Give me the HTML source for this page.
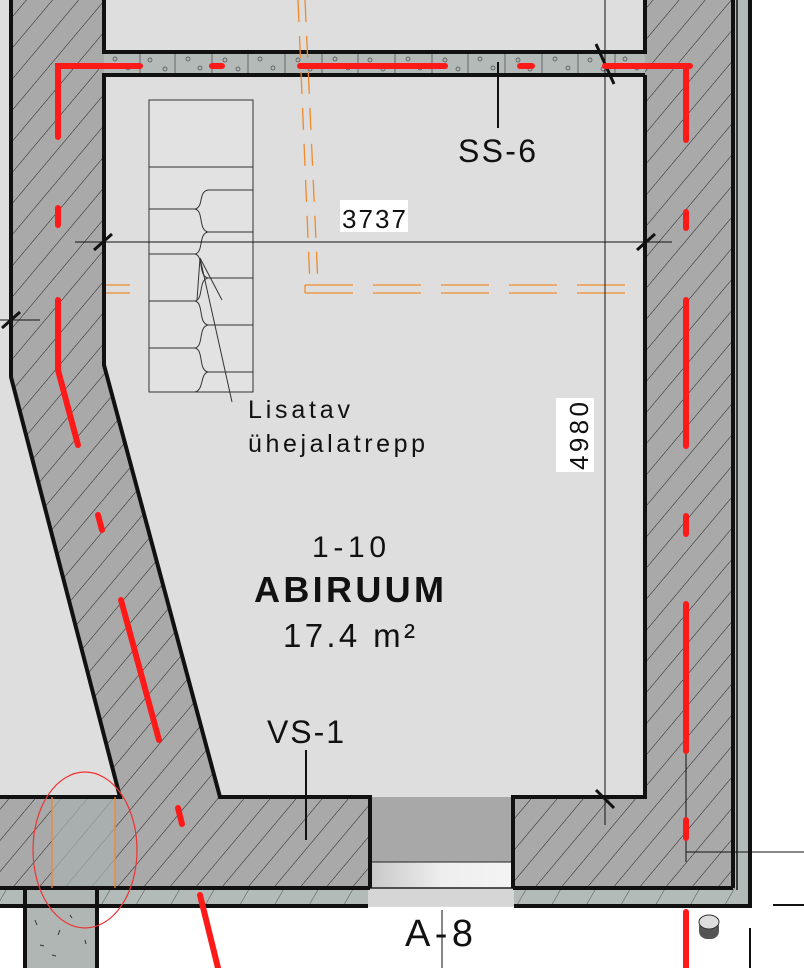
<!DOCTYPE html>
<html><head><meta charset="utf-8"><style>
html,body{margin:0;padding:0;background:#fff}
svg{display:block}
text{font-family:"Liberation Sans",sans-serif;fill:#111}
</style></head><body>
<svg width="804" height="968" viewBox="0 0 804 968" xmlns="http://www.w3.org/2000/svg">
<defs>
<pattern id="h" patternUnits="userSpaceOnUse" width="20" height="20" patternTransform="rotate(40)">
<rect width="20" height="20" fill="#a9a9a9"/>
<line x1="0" y1="0" x2="0" y2="20" stroke="#222" stroke-width="1"/>
</pattern>
<pattern id="h2" patternUnits="userSpaceOnUse" width="30" height="30" patternTransform="rotate(30)">
<rect width="30" height="30" fill="#b3bbb8"/>
<line x1="0" y1="0" x2="0" y2="30" stroke="#333" stroke-width="0.8"/>
</pattern>
<linearGradient id="g" x1="0" x2="1"><stop offset="0" stop-color="#c8c8c8"/><stop offset="0.5" stop-color="#eeeeee"/><stop offset="1" stop-color="#f4f4f4"/></linearGradient>
</defs>
<rect x="0" y="0" width="751" height="907" fill="#dedede"/>
<rect x="751" y="0" width="53" height="968" fill="#fff"/>
<rect x="0" y="907" width="751" height="61" fill="#fff"/>
<polygon points="11,0 104,0 104,365 220,797 0,797 0,888 120,888 120,797 11,377" fill="url(#h)"/>
<polygon points="0,797 120,797 11,377 11,797" fill="#dedede"/>
<rect x="0" y="797" width="370" height="91" fill="url(#h)"/>
<rect x="52" y="797" width="63" height="91" fill="#a9b0b0" opacity="0.7"/>
<rect x="513" y="797" width="220" height="91" fill="url(#h)"/>
<rect x="645" y="0" width="88" height="888" fill="url(#h)"/>
<rect x="735" y="0" width="15" height="906" fill="#b3bbb8"/>
<rect x="0" y="888" width="368" height="18" fill="url(#h2)"/>
<rect x="514" y="888" width="236" height="18" fill="url(#h2)"/>
<rect x="370" y="797" width="144" height="65" fill="#a8a8a8"/>
<rect x="370" y="862" width="144" height="26" fill="url(#g)"/>
<rect x="368" y="888" width="146" height="18" fill="#d6d6d6"/>
<line x1="370" y1="862" x2="514" y2="862" stroke="#222" stroke-width="1"/>
<line x1="368" y1="888" x2="514" y2="888" stroke="#222" stroke-width="1.5"/>
<rect x="25" y="888" width="72" height="80" fill="#b0b6b4"/>
<g stroke="#333" stroke-width="1"><line x1="35" y1="920" x2="37" y2="925"/><line x1="60" y1="930" x2="58" y2="935"/><line x1="40" y1="945" x2="44" y2="946"/><line x1="70" y1="915" x2="72" y2="918"/><line x1="52" y1="955" x2="56" y2="956"/><line x1="85" y1="940" x2="86" y2="944"/></g>
<line x1="25" y1="888" x2="25" y2="968" stroke="#111" stroke-width="4"/>
<line x1="97" y1="888" x2="97" y2="968" stroke="#111" stroke-width="4"/>
<rect x="104" y="0" width="541" height="52" fill="#dedede"/>
<rect x="104" y="52" width="541" height="23" fill="#b4bab8"/>
<g stroke="#444" stroke-width="0.7" fill="none">
<line x1="140" y1="52" x2="140" y2="75"/><line x1="175" y1="52" x2="175" y2="75"/><line x1="212" y1="52" x2="212" y2="75"/><line x1="248" y1="52" x2="248" y2="75"/><line x1="285" y1="52" x2="285" y2="75"/><line x1="322" y1="52" x2="322" y2="75"/><line x1="358" y1="52" x2="358" y2="75"/><line x1="395" y1="52" x2="395" y2="75"/><line x1="432" y1="52" x2="432" y2="75"/><line x1="468" y1="52" x2="468" y2="75"/><line x1="505" y1="52" x2="505" y2="75"/><line x1="542" y1="52" x2="542" y2="75"/><line x1="578" y1="52" x2="578" y2="75"/><line x1="615" y1="52" x2="615" y2="75"/>
<circle cx="115" cy="59" r="2"/><circle cx="128" cy="68" r="2"/><circle cx="150" cy="60" r="2"/><circle cx="165" cy="69" r="2"/><circle cx="188" cy="59" r="2"/><circle cx="200" cy="68" r="2"/><circle cx="225" cy="60" r="2"/><circle cx="238" cy="69" r="2"/><circle cx="260" cy="59" r="2"/><circle cx="273" cy="68" r="2"/><circle cx="298" cy="60" r="2"/><circle cx="310" cy="69" r="2"/><circle cx="335" cy="59" r="2"/><circle cx="348" cy="68" r="2"/><circle cx="370" cy="60" r="2"/><circle cx="383" cy="69" r="2"/><circle cx="408" cy="59" r="2"/><circle cx="420" cy="68" r="2"/><circle cx="445" cy="60" r="2"/><circle cx="458" cy="69" r="2"/><circle cx="480" cy="59" r="2"/><circle cx="493" cy="68" r="2"/><circle cx="518" cy="60" r="2"/><circle cx="530" cy="69" r="2"/><circle cx="555" cy="59" r="2"/><circle cx="568" cy="68" r="2"/><circle cx="590" cy="60" r="2"/><circle cx="603" cy="69" r="2"/><circle cx="625" cy="59" r="2"/><circle cx="637" cy="68" r="2"/>
</g>
<polygon points="104,75 645,75 645,797 220,797 104,365" fill="#dedede"/>
<g stroke="#111" stroke-width="4" fill="none">
<polyline points="104,0 104,52 645,52 645,0"/>
<polyline points="645,75 104,75 104,365 220,797 370,797 370,888"/>
<polyline points="11,0 11,377 120,797 0,797"/>
<polyline points="645,75 645,797 513,797 513,888"/>
<line x1="0" y1="888" x2="370" y2="888"/>
<line x1="513" y1="888" x2="733" y2="888"/>
<line x1="0" y1="906" x2="368" y2="906"/>
<polyline points="514,906 750,906 750,0"/>
<line x1="733" y1="0" x2="733" y2="888"/>
</g>
<line x1="737" y1="0" x2="737" y2="890" stroke="#111" stroke-width="1.5"/>
<g stroke="#f08a2a" stroke-width="1.3" fill="none">
<line x1="298" y1="0" x2="310" y2="285" stroke-dasharray="22,14"/>
<line x1="305" y1="0" x2="318" y2="285" stroke-dasharray="22,14"/>
<line x1="305" y1="285" x2="640" y2="285" stroke-dasharray="48,20"/>
<line x1="305" y1="293" x2="640" y2="293" stroke-dasharray="48,20"/>
<line x1="305" y1="285" x2="305" y2="293"/>
<line x1="106" y1="285" x2="130" y2="285"/><line x1="106" y1="293" x2="130" y2="293"/>
<line x1="52" y1="797" x2="52" y2="888"/><line x1="115" y1="797" x2="115" y2="888"/>
</g>
<g stroke="#333" stroke-width="1" fill="none">
<rect x="149" y="100" width="104" height="292" fill="#e2e2e2"/>
<line x1="149" y1="167" x2="253" y2="167"/>
<line x1="149" y1="209" x2="195" y2="209"/><line x1="149" y1="254" x2="195" y2="254"/><line x1="149" y1="301" x2="195" y2="301"/><line x1="149" y1="348" x2="195" y2="348"/>
<line x1="208" y1="190" x2="253" y2="190"/><line x1="208" y1="232" x2="253" y2="232"/><line x1="208" y1="278" x2="253" y2="278"/><line x1="208" y1="325" x2="253" y2="325"/><line x1="208" y1="372" x2="253" y2="372"/>
<path d="M208,190 C198,192 204,207 195,209 C204,211 198,230 208,232 C198,234 204,252 195,254 C204,256 198,276 208,278 C198,280 204,299 195,301 C204,303 198,323 208,325 C198,327 204,346 195,348 C204,350 198,370 208,372 C200,374 204,390 195,392"/>
<line x1="200" y1="258" x2="232" y2="402"/>
<line x1="200" y1="258" x2="222" y2="300"/>
<line x1="200" y1="258" x2="197" y2="300"/>
</g>
<g stroke="#111" stroke-width="1" fill="none">
<line x1="75" y1="242" x2="672" y2="242"/>
<line x1="605" y1="0" x2="605" y2="825"/>
<line x1="498" y1="62" x2="498" y2="128" stroke-width="2"/>
<line x1="306" y1="750" x2="306" y2="840" stroke-width="2"/>
<line x1="686" y1="752" x2="686" y2="862"/>
<line x1="686" y1="852" x2="804" y2="852"/>
<line x1="0" y1="320" x2="40" y2="320"/>
<line x1="442" y1="910" x2="442" y2="968"/>
</g>
<g stroke="#111" stroke-width="3">
<line x1="94" y1="250" x2="112" y2="234"/><line x1="637" y1="250" x2="655" y2="234"/>
<line x1="596" y1="44" x2="614" y2="84"/><line x1="596" y1="790" x2="614" y2="808"/>
<line x1="2" y1="328" x2="20" y2="312"/>
<line x1="773" y1="905" x2="804" y2="905" stroke-width="2"/>
<line x1="750" y1="928" x2="750" y2="968" stroke-width="2"/>
</g>
<g stroke="#ff1a1a" stroke-width="6" stroke-linecap="round" fill="none">
<polyline points="58,137 58,66 140,66"/>
<line x1="212" y1="66" x2="222" y2="66"/>
<line x1="300" y1="66" x2="445" y2="66"/>
<line x1="520" y1="66" x2="532" y2="66"/>
<line x1="605" y1="66" x2="690" y2="66"/>
<line x1="686" y1="66" x2="686" y2="140"/>
<line x1="58" y1="208" x2="58" y2="225"/>
<polyline points="58,300 58,370 78,445"/>
<line x1="98" y1="515" x2="102" y2="530"/>
<line x1="121" y1="600" x2="159" y2="740"/>
<line x1="178" y1="808" x2="182" y2="824"/>
<line x1="200" y1="895" x2="218" y2="968"/>
<line x1="686" y1="212" x2="686" y2="228"/>
<line x1="686" y1="300" x2="686" y2="446"/>
<line x1="686" y1="516" x2="686" y2="534"/>
<line x1="686" y1="604" x2="686" y2="751"/>
<line x1="686" y1="820" x2="686" y2="838"/>
<line x1="686" y1="912" x2="686" y2="968"/>
</g>
<ellipse cx="85" cy="850" rx="52" ry="78" fill="none" stroke="#e33" stroke-width="1.2"/>
<rect x="699" y="919" width="20" height="20" rx="8" fill="#555"/>
<ellipse cx="709" cy="922" rx="10" ry="7" fill="#ddd" stroke="#333" stroke-width="1"/>
<rect x="340" y="200" width="68" height="32" fill="#fff"/>
<text x="342" y="228" font-size="26" textLength="64">3737</text>
<text x="458" y="162" font-size="32" textLength="78">SS-6</text>
<text x="248" y="418" font-size="25" textLength="102">Lisatav</text>
<text x="248" y="452" font-size="25" textLength="177">ühejalatrepp</text>
<rect x="556" y="398" width="38" height="74" fill="#fff"/>
<text transform="translate(588,470) rotate(-90)" font-size="26" textLength="68">4980</text>
<text x="312" y="557" font-size="30" textLength="74">1-10</text>
<text x="254" y="602" font-size="36" font-weight="bold" textLength="190">ABIRUUM</text>
<text x="283" y="647" font-size="33" textLength="132">17.4 m²</text>
<text x="267" y="743" font-size="32" textLength="77">VS-1</text>
<text x="405" y="946" font-size="38" textLength="68">A-8</text>
</svg>
</body></html>
